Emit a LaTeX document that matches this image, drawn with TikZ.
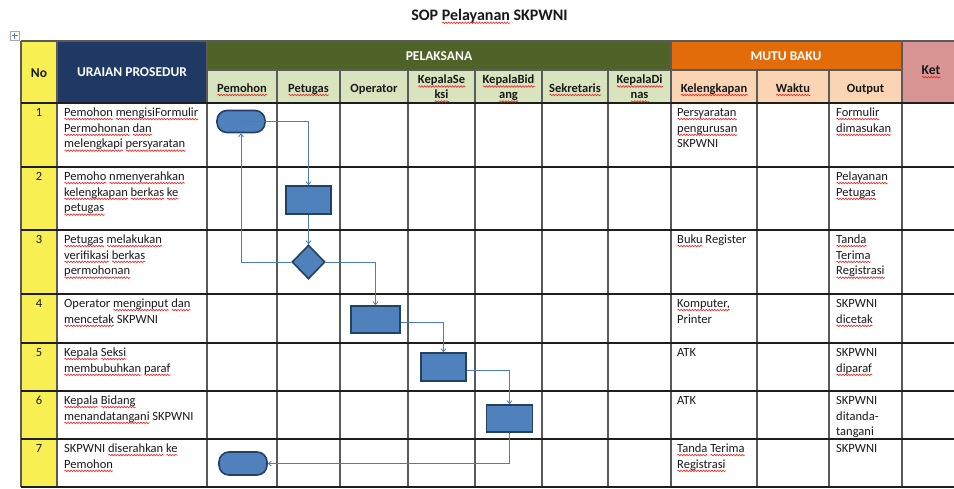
\documentclass[tikz,border=0pt]{standalone}
\usepackage{fontspec}
\setmainfont{Carlito}
\usetikzlibrary{arrows.meta,shapes.geometric,decorations.pathmorphing}
\definecolor{cyel}{RGB}{248,240,82}
\definecolor{cnavy}{RGB}{31,56,100}
\definecolor{cgreen}{RGB}{79,98,40}
\definecolor{clgreen}{RGB}{215,228,189}
\definecolor{corange}{RGB}{227,108,10}
\definecolor{cpeach}{RGB}{251,212,180}
\definecolor{cpink}{RGB}{217,149,148}
\definecolor{shpf}{RGB}{79,129,189}
\definecolor{shpb}{RGB}{36,64,98}
\definecolor{conc}{RGB}{74,126,187}
\definecolor{gridc}{RGB}{90,90,90}
\definecolor{gridk}{RGB}{30,30,30}
\definecolor{txt}{RGB}{25,25,25}
\definecolor{wavc}{RGB}{225,40,40}
\newsavebox\sqbox
\newdimen\sqlen
\newcommand\sq[1]{\sbox\sqbox{#1}\setlength\sqlen{\wd\sqbox}\rlap{\tikz[baseline=0pt,x=1pt,y=1pt]\draw[wavc,line width=0.6pt,decorate,decoration={snake,amplitude=0.8pt,segment length=2.8pt}] (0pt,-2.8pt) -- (\sqlen,-2.8pt);}\usebox\sqbox}
\tikzset{
 cellt/.style={anchor=north west, inner sep=0pt, align=left, font=\fontsize{12.5}{15.8}\selectfont, text=txt},
 hdrw/.style={font=\bfseries\fontsize{13.5}{16}\selectfont, text=white, inner sep=0pt},
 hdrd/.style={font=\bfseries\fontsize{13.5}{16}\selectfont, text=txt, inner sep=0pt},
 subh/.style={anchor=north, align=center, inner sep=0pt, font=\bfseries\fontsize{12.5}{15}\selectfont, text=txt},
 numt/.style={anchor=base, inner sep=0pt, font=\fontsize{12.5}{15}\selectfont, text=txt},
 term/.style={draw=shpb, fill=shpf, line width=1.6pt, rounded corners=10pt, minimum width=48pt, minimum height=22pt, inner sep=0pt},
 proc/.style={draw=shpb, fill=shpf, line width=1.6pt, inner sep=0pt},
 dec/.style={diamond, draw=shpb, fill=shpf, line width=1.6pt, inner sep=0pt, minimum width=33pt, minimum height=34pt},
 conn/.style={draw=conc, line width=0.8pt, -{Straight Barb[length=3pt,width=5pt]}},
 gridv/.style={draw=gridc, line width=1.3pt},
 gridh/.style={draw=gridk, line width=1.3pt},
}
\begin{document}
\begin{tikzpicture}[x=1pt,y=-1pt]
\useasboundingbox (0,0) rectangle (954,488);
\clip (0,0) rectangle (954,488);
\fill[white] (0,0) rectangle (954,488);
% title
\node[anchor=base, inner sep=0pt, font=\bfseries\fontsize{16}{19}\selectfont, text=txt] (title) at (489.5,20) {SOP \sq{Pelayanan} SKPWNI};
% table move icon
\draw[draw=gray!70, fill=white, line width=0.6pt] (10,31) rectangle (19,40);
\draw[draw=conc, line width=0.7pt] (11.5,35.5) -- (17.5,35.5) (14.5,32.5) -- (14.5,38.5);
% header fills
\fill[cyel] (21,41) rectangle (57,487);
\fill[cnavy] (57,41) rectangle (207,103);
\fill[cgreen] (207,41) rectangle (671,70);
\fill[clgreen] (207,70) rectangle (671,103);
\fill[corange] (671,41) rectangle (902,70);
\fill[cpeach] (671,70) rectangle (902,103);
\fill[cpink] (902,41) rectangle (960,103);
% grid vertical
\foreach \x in {21,57,207,671,902} \draw[gridv] (\x,41) -- (\x,487);
\foreach \x in {277,340,408,475,542,608,757,829} \draw[gridv] (\x,70) -- (\x,487);
% grid horizontal
\draw[gridv, line width=1.8pt] (21,41) -- (960,41);
\draw[gridv] (207,70) -- (902,70);
\foreach \y in {103,167,230,294,343,391,439} \draw[gridh] (21,\y) -- (960,\y);
\draw[gridh] (21,487) -- (960,487);
% header texts
\node[hdrd] (hno) at (39,73) {No};
\node[hdrw] (hur) at (132,72) {URAIAN PROSEDUR};
\node[hdrw] (hpl) at (439,56.5) {PELAKSANA};
\node[hdrw] (hmb) at (786,56.5) {MUTU BAKU};
\node[hdrd] (hket) at (931,72) {\sq{Ket}};
\node[subh] (s1) at (242,81.5) {\strut\sq{Pemohon}};
\node[subh] (s2) at (308.5,81.5) {\strut\sq{Petugas}};
\node[subh] (s3) at (374,81.5) {\strut Operator};
\node[subh] (s4) at (441.5,73) {\strut\sq{KepalaSe}\\\strut\sq{ksi}};
\node[subh] (s5) at (508.5,73) {\strut\sq{KepalaBid}\\\strut\sq{ang}};
\node[subh] (s6) at (575,81.5) {\strut\sq{Sekretaris}};
\node[subh] (s7) at (639.5,73) {\strut\sq{KepalaDi}\\\strut\sq{nas}};
\node[subh] (s8) at (714,81.5) {\strut\sq{Kelengkapan}};
\node[subh] (s9) at (793,81.5) {\strut\sq{Waktu}};
\node[subh] (s10) at (865.5,81.5) {\strut Output};
% numbers
\node[numt] (n1) at (39,116) {1};
\node[numt] (n2) at (39,180) {2};
\node[numt] (n3) at (39,243) {3};
\node[numt] (n4) at (39,307) {4};
\node[numt] (n5) at (39,356) {5};
\node[numt] (n6) at (39,404) {6};
\node[numt] (n7) at (39,452) {7};
% uraian
\node[cellt] (u1) at (64,105) {\strut\sq{Pemohon} \sq{mengisiFormulir}\\\strut\sq{Permohonan} \sq{dan}\\\strut\sq{melengkapi} \sq{persyaratan}};
\node[cellt] (u2) at (64,169) {\strut\sq{Pemoho} \sq{nmenyerahkan}\\\strut\sq{kelengkapan} \sq{berkas} \sq{ke}\\\strut\sq{petugas}};
\node[cellt] (u3) at (64,232) {\strut\sq{Petugas} \sq{melakukan}\\\strut\sq{verifikasi} \sq{berkas}\\\strut\sq{permohonan}};
\node[cellt] (u4) at (64,296) {\strut Operator \sq{menginput} \sq{dan}\\\strut\sq{mencetak} SKPWNI};
\node[cellt] (u5) at (64,345) {\strut\sq{Kepala} \sq{Seksi}\\\strut\sq{membubuhkan} \sq{paraf}};
\node[cellt] (u6) at (64,393) {\strut\sq{Kepala} \sq{Bidang}\\\strut\sq{menandatangani} SKPWNI};
\node[cellt] (u7) at (64,441) {\strut SKPWNI \sq{diserahkan} \sq{ke}\\\strut\sq{Pemohon}};
% kelengkapan
\node[cellt] (k1) at (677,105) {\strut\sq{Persyaratan}\\\strut\sq{pengurusan}\\\strut SKPWNI};
\node[cellt] (k3) at (677,232) {\strut\sq{Buku} Register};
\node[cellt] (k4) at (677,296) {\strut\sq{Komputer,}\\\strut Printer};
\node[cellt] (k5) at (677,345) {\strut ATK};
\node[cellt] (k6) at (677,393) {\strut ATK};
\node[cellt] (k7) at (677,441) {\strut\sq{Tanda} \sq{Terima}\\\strut\sq{Registrasi}};
% output
\node[cellt] (o1) at (836,105) {\strut\sq{Formulir}\\\strut\sq{dimasukan}};
\node[cellt] (o2) at (836,169) {\strut\sq{Pelayanan}\\\strut\sq{Petugas}};
\node[cellt] (o3) at (836,232) {\strut\sq{Tanda}\\\strut\sq{Terima}\\\strut\sq{Registrasi}};
\node[cellt] (o4) at (836,296) {\strut SKPWNI\\\strut\sq{dicetak}};
\node[cellt] (o5) at (836,345) {\strut SKPWNI\\\strut\sq{diparaf}};
\node[cellt] (o6) at (836,393) {\strut SKPWNI\\\strut ditanda-\\\strut tangani};
\node[cellt] (o7) at (836,441) {\strut SKPWNI};
% flow shapes
\node[term] (t1) at (241,121.5) {};
\node[proc, minimum width=45pt, minimum height=28pt] (p2) at (308.5,200) {};
\node[dec] (d3) at (308.5,262) {};
\node[proc, minimum width=49pt, minimum height=27pt] (p4) at (375.5,319.5) {};
\node[proc, minimum width=45pt, minimum height=28pt] (p5) at (443.5,367) {};
\node[proc, minimum width=46pt, minimum height=27pt] (p6) at (509.5,418.5) {};
\node[term, minimum height=23pt] (t7) at (243,463.5) {};
% connectors
\draw[conn] (t1.center) -| (p2.north);
\draw[conn] (p2.south) -- (d3.north);
\draw[conn] (d3.west) -| (t1.south);
\draw[conn] (d3.east) -| (p4.north);
\draw[conn] ([yshift=-3pt]p4.east) -| (p5.north);
\draw[conn] ([yshift=-3pt]p5.east) -| (p6.north);
\draw[conn] (p6.south) |- (t7.east);
\end{tikzpicture}
\end{document}
